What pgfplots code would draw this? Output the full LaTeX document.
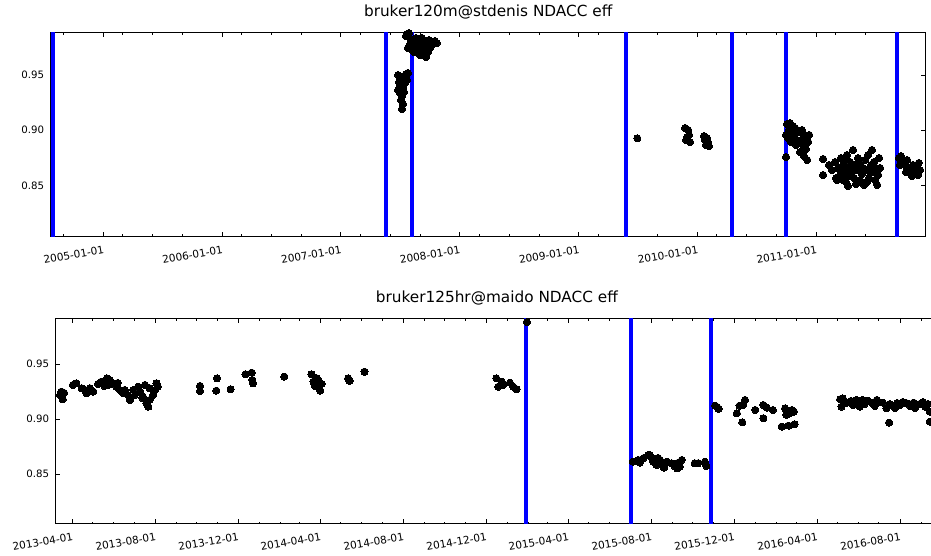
\documentclass[border=0pt]{standalone}
\usepackage{fontspec}
\setmainfont{DejaVu Sans}
\usepackage{pgfplots}
\pgfplotsset{compat=1.18}
\definecolor{mplblue}{RGB}{0,0,255}
\pgfplotsset{
  mystyle/.style={
    scale only axis,
    anchor=south west,
    axis line style={line width=1pt, black},
    every tick/.style={black, line width=0.8pt},
    major tick length=4.5pt,
    minor tick length=2.3pt,
    ytick={0.85,0.90,0.95},
    /pgf/number format/assume math mode=true,
    y tick label style={/pgf/number format/.cd, fixed, fixed zerofill, precision=2, /tikz/.cd, font=\fontsize{10.2}{12}\selectfont, xshift=-3pt},
    x tick label style={inner sep=0pt, yshift=-8.5pt, rotate=10, anchor=north east, font=\fontsize{10.5}{12}\selectfont},
    title style={font=\fontsize{15.3}{18}\selectfont, anchor=base, at={(0.5,1)}, yshift=9.6pt},
  },
  pts/.style={only marks, mark=*, mark size=3.6pt, mark options={fill=black, draw=black, line width=0pt}, black},
  vl/.style={mplblue, line width=4pt, no marks},
}
\begin{document}
\begin{tikzpicture}
\useasboundingbox (0,0) rectangle (931pt,556pt);
\clip (0,0) rectangle (931pt,556pt);
% ---------------- top panel: days since 2004-01-01 ----------------
\begin{axis}[mystyle, at={(50.7pt,319.3pt)}, width=875pt, height=204.4pt,
  xmin=204.4, xmax=2893.2, ymin=0.8035, ymax=0.9887,
  xtick={366,731,1096,1461,1827,2192,2557},
  xticklabels={2005-01-01,2006-01-01,2007-01-01,2008-01-01,2009-01-01,2010-01-01,2011-01-01},
  minor xtick={244,425,517,609,790,882,974,1155,1247,1339,1521,1613,1705,1886,1978,2070,2251,2343,2435,2616,2708,2800},
  title={bruker120m@stdenis NDACC eff}]
\addplot[pts] coordinates {
(1272,0.9500) (1278,0.9482) (1284,0.9464) (1290,0.9491) (1296,0.9509) (1302,0.9518)
(1275,0.9437) (1281,0.9409) (1287,0.9382) (1293,0.9428) (1299,0.9455) (1272,0.9364)
(1278,0.9337) (1284,0.9310) (1290,0.9346) (1281,0.9274) (1287,0.9237) (1284,0.9192)
(1296,0.9473) (1278,0.9400)
(1299,0.9871) (1305,0.9844) (1312,0.9817) (1309,0.9781) (1302,0.9745) (1318,0.9763)
(1324,0.9799) (1330,0.9772) (1336,0.9727) (1342,0.9790) (1348,0.9754) (1355,0.9808)
(1361,0.9772) (1367,0.9817) (1373,0.9799) (1379,0.9781) (1385,0.9808) (1391,0.9790)
(1339,0.9681) (1352,0.9699) (1364,0.9708) (1358,0.9663) (1333,0.9727) (1321,0.9708)
(1315,0.9727) (1345,0.9835) (1370,0.9745) (1327,0.9835) (1305,0.9880) (1296,0.9853)
(2007,0.8927)
(2154,0.9020) (2163,0.9002) (2166,0.8957) (2157,0.8911) (2169,0.8893) (2160,0.8938)
(2212,0.8947) (2221,0.8929) (2224,0.8893) (2218,0.8866) (2227,0.8857) (2215,0.8911)
(2467,0.9056) (2476,0.9065) (2485,0.9038) (2473,0.9002) (2482,0.8975) (2492,0.9020)
(2470,0.8929) (2479,0.8893) (2489,0.8938) (2498,0.8911) (2464,0.8757) (2504,0.8984)
(2513,0.9002) (2522,0.8957) (2510,0.8911) (2516,0.8866) (2525,0.8830) (2507,0.8803)
(2519,0.8766) (2529,0.8730) (2535,0.8957) (2532,0.8893) (2464,0.8957) (2495,0.8866)
(2578,0.8739) (2578,0.8594) (2596,0.8685) (2605,0.8639) (2615,0.8712) (2618,0.8567)
(2624,0.8658) (2630,0.8594) (2633,0.8748) (2639,0.8685) (2645,0.8621) (2648,0.8531)
(2651,0.8775) (2657,0.8658) (2661,0.8712) (2667,0.8585) (2670,0.8821) (2676,0.8685)
(2682,0.8639) (2685,0.8748) (2691,0.8549) (2694,0.8676) (2697,0.8603) (2704,0.8504)
(2707,0.8730) (2710,0.8639) (2716,0.8775) (2719,0.8567) (2725,0.8685) (2728,0.8621)
(2734,0.8712) (2737,0.8549) (2741,0.8658) (2747,0.8594) (2750,0.8748) (2753,0.8658)
(2728,0.8821) (2679,0.8513) (2639,0.8549) (2654,0.8495) (2621,0.8549) (2713,0.8531)
(2744,0.8504) (2636,0.8639) (2642,0.8730) (2664,0.8639) (2673,0.8567) (2688,0.8694)
(2701,0.8658) (2722,0.8621) (2654,0.8585)
(2811,0.8748) (2817,0.8766) (2823,0.8712) (2830,0.8685) (2836,0.8730) (2842,0.8658)
(2848,0.8639) (2854,0.8685) (2860,0.8621) (2866,0.8658) (2872,0.8703) (2876,0.8639)
(2833,0.8621) (2851,0.8585) (2869,0.8594) (2814,0.8685)
};
\addplot[vl] coordinates {(212.4,0.7) (212.4,1.1)};
\addplot[vl] coordinates {(1235.7,0.7) (1235.7,1.1)};
\addplot[vl] coordinates {(1315.6,0.7) (1315.6,1.1)};
\addplot[vl] coordinates {(1971.3,0.7) (1971.3,1.1)};
\addplot[vl] coordinates {(2298.9,0.7) (2298.9,1.1)};
\addplot[vl] coordinates {(2463.1,0.7) (2463.1,1.1)};
\addplot[vl] coordinates {(2804.1,0.7) (2804.1,1.1)};
\end{axis}
% ---------------- bottom panel: days since 2013-01-01 ----------------
\begin{axis}[mystyle, at={(55.7pt,32pt)}, width=882.3pt, height=205.7pt,
  xmin=65.6, xmax=1364, ymin=0.8049, ymax=0.9914,
  xtick={90,212,334,455,577,699,820,942,1064,1186,1308},
  xticklabels={2013-04-01,2013-08-01,2013-12-01,2014-04-01,2014-08-01,2014-12-01,2015-04-01,2015-08-01,2015-12-01,2016-04-01,2016-08-01},
  minor xtick={120,151,181,243,273,304,365,396,424,485,516,546,608,638,669,730,761,789,850,881,911,973,1003,1034,1095,1126,1155,1216,1247,1277,1339},
  title={bruker125hr@maido NDACC eff}]
\addplot[pts] coordinates {
(74,0.9249) (76,0.9180) (72,0.9219) (78,0.9237) (91,0.9310) (96,0.9325) (104,0.9280)
(109,0.9264) (116,0.9280) (121,0.9249) (111,0.9234) (128,0.9319) (133,0.9340)
(141,0.9370) (145,0.9355) (150,0.9325) (155,0.9294) (160,0.9264) (143,0.9310)
(165,0.9234) (172,0.9219) (175,0.9174) (180,0.9264) (187,0.9294) (190,0.9249)
(194,0.9204) (199,0.9144) (202,0.9113) (204,0.9174) (209,0.9219) (212,0.9264)
(214,0.9325) (204,0.9280) (197,0.9310) (216,0.9294) (182,0.9219) (167,0.9264)
(157,0.9328) (137,0.9301) (193,0.9192)
(278,0.9301) (278,0.9255) (303,0.9370) (302,0.9258) (323,0.9271) (345,0.9407)
(354,0.9421) (355,0.9355) (356,0.9325) (402,0.9385) (442,0.9407) (445,0.9340)
(450,0.9370) (452,0.9294) (455,0.9258) (457,0.9319) (447,0.9301) (452,0.9355)
(496,0.9370) (498,0.9346) (520,0.9430)
(714,0.9370) (717,0.9294) (722,0.9340) (724,0.9310) (734,0.9330) (739,0.9294)
(744,0.9271) (759,0.9880)
(915,0.8614) (923,0.8630) (925,0.8605) (938,0.8675) (943,0.8645) (945,0.8614)
(950,0.8584) (955,0.8630) (960,0.8569) (965,0.8614) (972,0.8600) (977,0.8569)
(982,0.8605) (987,0.8630) (984,0.8569) (1006,0.8600) (1011,0.8600) (1021,0.8614)
(1023,0.8575) (940,0.8675) (961,0.8560) (980,0.8554) (931,0.8648) (952,0.8648)
(1036,0.9122) (1041,0.9092) (1039,0.9110) (1068,0.9053) (1072,0.9122) (1080,0.9174)
(1076,0.8971) (1077,0.9128) (1095,0.9083) (1107,0.9128) (1107,0.9008) (1112,0.9104)
(1121,0.9083) (1134,0.8932) (1139,0.9098) (1141,0.9038) (1144,0.8941) (1146,0.9053)
(1152,0.9068) (1153,0.8953) (1149,0.9083)
(1220,0.9180) (1222,0.9113) (1224,0.9187) (1230,0.9149) (1236,0.9165) (1239,0.9128)
(1244,0.9174) (1249,0.9113) (1253,0.9174) (1256,0.9137) (1261,0.9167) (1267,0.9146)
(1271,0.9119) (1274,0.9174) (1277,0.9155) (1283,0.9149) (1288,0.9098) (1292,0.8968)
(1293,0.9137) (1298,0.9119) (1301,0.9101) (1304,0.9146) (1308,0.9128) (1312,0.9155)
(1318,0.9144) (1323,0.9119) (1328,0.9149) (1330,0.9101) (1333,0.9128) (1337,0.9137)
(1342,0.9155) (1345,0.9113) (1349,0.9137) (1352,0.9068) (1352,0.8977)
};
\addplot[vl] coordinates {(757.2,0.7) (757.2,1.1)};
\addplot[vl] coordinates {(911.7,0.7) (911.7,1.1)};
\addplot[vl] coordinates {(1030.3,0.7) (1030.3,1.1)};
\end{axis}
\end{tikzpicture}
\end{document}
